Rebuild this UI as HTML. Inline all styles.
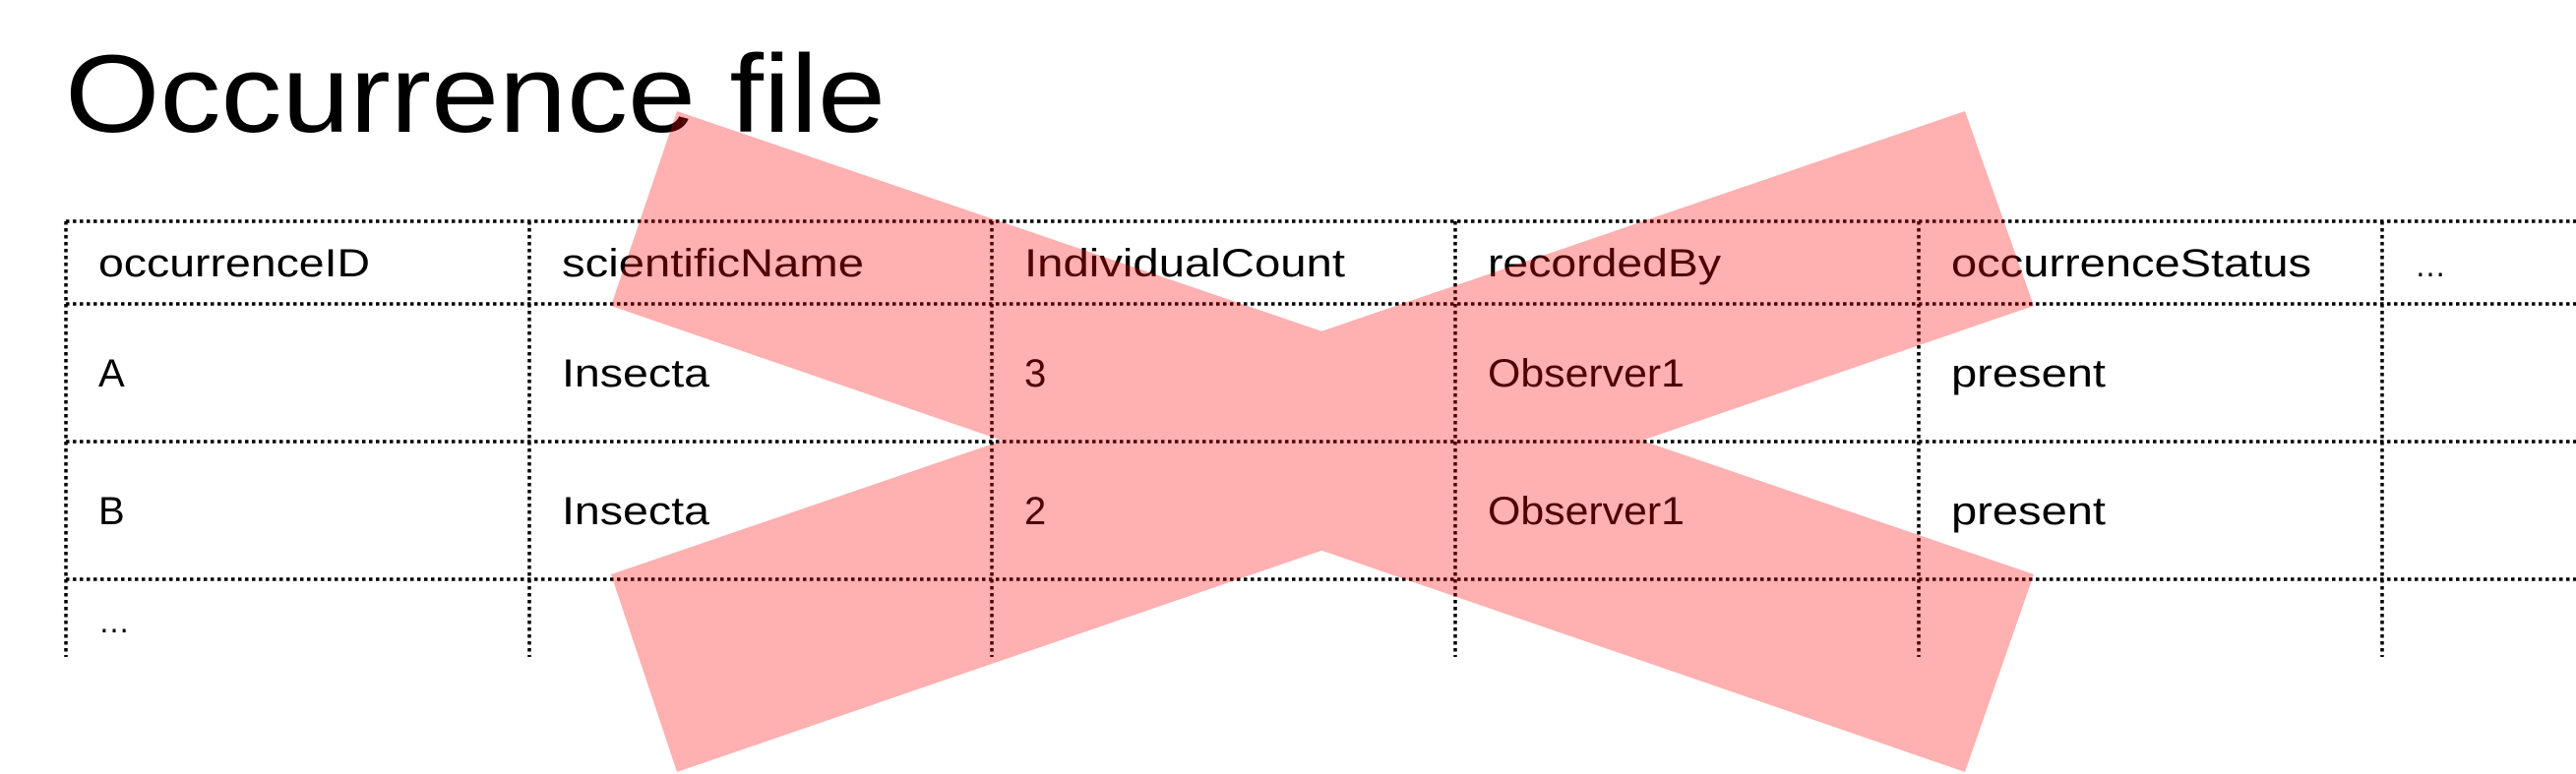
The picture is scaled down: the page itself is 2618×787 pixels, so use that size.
<!DOCTYPE html>
<html><head><meta charset="utf-8"><style>
html,body{margin:0;padding:0;background:#fff;width:2618px;height:787px;overflow:hidden;font-family:"Liberation Sans",sans-serif}
svg{position:absolute;left:0;top:0}
</style></head><body>
<svg width="2618" height="787" viewBox="0 0 2618 787">
<text x="66" y="134" font-size="112" fill="#000" font-family="Liberation Sans, sans-serif" textLength="834" lengthAdjust="spacingAndGlyphs">Occurrence file</text>
<g stroke="#000" stroke-width="3.5" stroke-dasharray="3.5,3.5">
<line x1="67" y1="225" x2="2618" y2="225"/>
<line x1="67" y1="309" x2="2618" y2="309"/>
<line x1="67" y1="449" x2="2618" y2="449"/>
<line x1="67" y1="589" x2="2618" y2="589"/>
<line x1="67" y1="225" x2="67" y2="668"/>
<line x1="538" y1="225" x2="538" y2="668"/>
<line x1="1008" y1="225" x2="1008" y2="668"/>
<line x1="1479" y1="225" x2="1479" y2="668"/>
<line x1="1950" y1="225" x2="1950" y2="668"/>
<line x1="2421" y1="225" x2="2421" y2="668"/>
</g>
<g font-size="40" fill="#000" font-family="Liberation Sans, sans-serif" lengthAdjust="spacingAndGlyphs">
<text x="100" y="281" textLength="276" lengthAdjust="spacingAndGlyphs">occurrenceID</text>
<text x="571" y="281" textLength="307" lengthAdjust="spacingAndGlyphs">scientificName</text>
<text x="1041" y="281" textLength="326" lengthAdjust="spacingAndGlyphs">IndividualCount</text>
<text x="1512" y="281" textLength="237" lengthAdjust="spacingAndGlyphs">recordedBy</text>
<text x="1983" y="281" textLength="366" lengthAdjust="spacingAndGlyphs">occurrenceStatus</text>
<text x="2454" y="281" font-size="32">…</text>
<text x="100" y="393">A</text>
<text x="571" y="393" textLength="150" lengthAdjust="spacingAndGlyphs">Insecta</text>
<text x="1041" y="393">3</text>
<text x="1512" y="393" textLength="200" lengthAdjust="spacingAndGlyphs">Observer1</text>
<text x="1983" y="393" textLength="157" lengthAdjust="spacingAndGlyphs">present</text>
<text x="100" y="533">B</text>
<text x="571" y="533" textLength="150" lengthAdjust="spacingAndGlyphs">Insecta</text>
<text x="1041" y="533">2</text>
<text x="1512" y="533" textLength="200" lengthAdjust="spacingAndGlyphs">Observer1</text>
<text x="1983" y="533" textLength="157" lengthAdjust="spacingAndGlyphs">present</text>
<text x="100" y="643" font-size="32">…</text>
</g>
<g fill="rgb(255,0,0)" opacity="0.31">
<path d="M688,113 L2067,584 L1997,785 L621,311 Z M621,584 L1997,113 L2067,311 L688,785 Z" fill-rule="nonzero"/>
</g>
</svg>
</body></html>
